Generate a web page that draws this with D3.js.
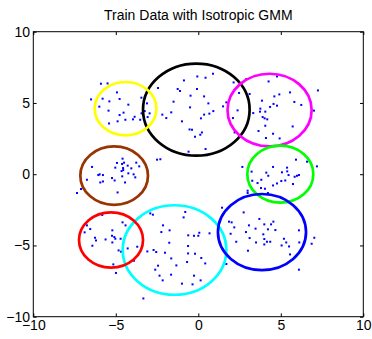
<!DOCTYPE html>
<html>
<head>
<meta charset="utf-8">
<script src="https://cdn.jsdelivr.net/npm/d3@7/dist/d3.min.js"></script>
<style>
  html, body { margin: 0; padding: 0; background: #fff; }
  svg { display: block; }
  text { font-family: "Liberation Sans", Arial, Helvetica, sans-serif; }
</style>
</head>
<body>
<div id="chart"></div>
<script>
// ---------- data ----------
const titleText = "Train Data with Isotropic GMM";
const xTicks = [-10, -5, 0, 5, 10];
const yTicks = [-10, -5, 0, 5, 10];

// sample points (grouped by region)
const yellowX = [-5.90,-5.50,-6.50,-5.80,-4.93,-5.39,-4.77,-6.00,-4.24,-5.44,-4.53,-4.77,-3.45,-3.11,-3.44,-3.25,-2.95,-3.07,-3.86,-3.96,-4.42,-4.89,-5.41,-3.52];
const yellowY = [6.35,6.37,5.25,5.30,5.74,5.11,5.28,4.74,4.88,4.46,4.32,4.15,5.37,4.97,4.27,4.43,4.27,4.01,4.03,3.85,3.82,3.71,3.56,3.82];

const blackX = [-2.44,-0.87,-0.06,0.44,0.89,-1.25,-1.11,-0.08,-0.47,0.35,-1.50,-0.50,0.61,0.91,0.67,0.35,0.16,-0.99,-1.64,-2.18,-1.94,-0.53,-0.38,0.22,0.12,-0.20,-0.59,0.44,1.50,1.70,2.14,2.47,2.38,2.10,2.20,2.91,3.11,-2.50,-2.30];
const blackY = [6.05,6.58,6.86,6.77,7.05,5.98,5.84,5.98,5.51,5.46,5.09,4.69,4.97,4.43,4.25,4.18,3.92,3.71,4.34,4.18,3.94,3.14,3.12,2.93,2.77,2.63,1.58,1.77,4.76,5.04,6.44,5.70,4.48,3.94,2.93,6.68,5.63,1.02,1.05];

const magentaX = [4.26,4.77,3.86,4.61,4.91,5.56,7.25,5.82,6.24,4.56,4.77,4.35,3.76,3.74,4.06,3.33,3.90,4.02,4.18,7.01,5.72,3.65,4.06,4.53,4.93,4.10];
const magentaY = [6.51,6.86,5.16,5.46,5.60,5.74,5.88,5.07,4.86,4.93,4.81,4.72,4.60,4.39,4.39,4.29,4.01,3.92,3.85,4.46,3.35,3.03,3.40,2.84,2.51,2.54];

const brownX = [-6.44,-6.75,-7.35,-7.11,-6.06,-5.98,-5.78,-5.94,-5.78,-5.23,-5.07,-4.89,-5.03,-4.93,-4.59,-4.62,-4.50,-4.28,-4.56,-4.65,-4.55,-4.06,-3.76,-3.58,-4.24,-3.92,-3.82,-4.61,-4.44];
const brownY = [0.51,-0.39,-1.32,-1.04,-0.06,-0.01,-0.06,-0.58,-0.51,-0.27,-0.44,-1.28,0.46,0.79,1.09,0.72,0.81,0.60,0.43,0.22,0.29,0.41,0.81,0.55,0.06,-0.01,-0.22,-0.15,-0.58];

const greenX = [2.67,3.23,4.53,4.12,4.24,5.07,5.38,5.39,5.47,5.92,6.59,7.19,5.84,5.98,6.10,5.27,5.03,4.77,4.53,5.74,3.82,3.27,3.59,3.80,4.04,2.99,2.99,4.22];
const greenY = [0.51,0.18,0.51,0.11,-0.11,0.13,0.46,0.20,-0.06,1.02,0.88,0.55,-0.18,-0.11,-0.06,-0.44,-0.48,-0.65,-0.79,-0.69,-0.39,-0.46,-0.62,-0.97,-1.02,-1.16,-1.32,-1.32];

const redX = [-5.82,-6.75,-6.55,-6.89,-6.26,-6.20,-6.42,-5.62,-5.21,-5.23,-5.09,-5.03,-5.21,-4.71,-4.59,-4.41,-4.83,-4.68,-4.28,-3.70,-3.09,-3.90,-5.15,-4.99];
const redY = [-2.86,-3.59,-3.85,-4.08,-4.46,-4.65,-5.02,-4.58,-3.94,-4.32,-4.41,-4.53,-4.79,-4.53,-3.38,-3.59,-5.35,-5.44,-5.21,-5.09,-5.42,-6.07,-6.33,-6.93];

const cyanX = [-2.91,-2.75,-0.79,-0.89,-2.14,-1.74,-2.24,-0.61,-0.26,0.00,0.06,0.68,-1.76,-0.62,-2.71,-2.55,-2.02,-0.62,-0.20,-1.64,0.18,0.42,-0.68,-1.33,-2.44,-2.61,-2.35,-2.16,-1.65,-0.26,0.14,-0.99,-0.35,-3.33,1.44,1.70];
const cyanY = [-2.75,-2.84,-2.65,-3.03,-3.59,-3.94,-4.06,-4.29,-4.32,-4.32,-4.11,-4.15,-4.81,-5.04,-5.32,-5.46,-5.51,-5.56,-5.58,-5.91,-5.88,-6.26,-6.16,-6.40,-6.42,-6.70,-7.12,-7.45,-7.05,-7.12,-7.45,-7.68,-7.73,-8.72,-2.35,-6.30];

const blueX = [2.75,3.70,1.86,2.02,2.18,3.07,3.47,4.00,4.41,4.55,4.22,4.67,2.89,1.96,3.94,6.10,7.03,6.87,6.12,5.19,5.33,5.50,5.05,3.50,4.00,4.16,4.36,4.00,3.11,2.30,3.01,5.56,6.10];
const blueY = [-2.68,-3.14,-3.33,-3.38,-3.73,-3.59,-3.82,-3.52,-3.52,-3.33,-3.87,-3.92,-4.06,-4.18,-4.22,-3.94,-4.46,-4.88,-4.79,-4.53,-4.79,-5.07,-5.00,-4.79,-4.55,-4.74,-4.74,-4.93,-4.48,-4.74,-5.37,-5.63,-6.70];

// GMM components (isotropic => circles in data space)
const compNames   = ["black", "yellow", "magenta", "brown", "green", "cyan", "red", "blue"];
const compCenterX = [-0.12, -4.41, 4.32, -5.10, 4.97, -1.44, -5.29, 3.86];
const compCenterY = [4.53, 4.60, 4.50, -0.10, 0.00, -5.32, -4.62, -4.06];
const compRadius  = [3.23, 1.87, 2.55, 2.05, 2.00, 3.14, 1.94, 2.67];
const compColors  = ["#000000", "#ffff00", "#ff00ff", "#993300", "#00ff00", "#00ffff", "#ff0000", "#0000ff"];

// ---------- drawing ----------
(function () {
const W = 372, H = 339;
const mLeft = 33.3, mRight = 363.3, mTop = 31.7, mBottom = 316.7;

const svg = d3.select("#chart").append("svg")
  .attr("width", W).attr("height", H);

const x = d3.scaleLinear().domain([-10, 10]).range([mLeft, mRight]);
const y = d3.scaleLinear().domain([-10, 10]).range([mBottom, mTop]);

const groupsX = [yellowX, blackX, magentaX, brownX, greenX, redX, cyanX, blueX];
const groupsY = [yellowY, blackY, magentaY, brownY, greenY, redY, cyanY, blueY];
const points = [];
groupsX.forEach((gx, gi) => gx.forEach((v, i) => points.push([v, groupsY[gi][i]])));

// points
svg.append("g").selectAll("rect").data(points).join("rect")
  .attr("x", d => x(d[0]) - 1)
  .attr("y", d => y(d[1]) - 1)
  .attr("width", 2).attr("height", 2)
  .attr("fill", "#0000ff");

// component circles
const comps = compNames.map((n, i) => ({
  cx: compCenterX[i], cy: compCenterY[i], r: compRadius[i], color: compColors[i]
}));
svg.append("g").selectAll("ellipse").data(comps).join("ellipse")
  .attr("cx", d => x(d.cx))
  .attr("cy", d => y(d.cy))
  .attr("rx", d => x(d.r) - x(0))
  .attr("ry", d => y(0) - y(d.r))
  .attr("fill", "none")
  .attr("stroke", d => d.color)
  .attr("stroke-width", 2.7);

// axes
const tick = 3.3;
const fs = "14px";
const axB = d3.axisBottom(x).tickValues(xTicks).tickSizeInner(-tick).tickSizeOuter(0).tickPadding(3.5);
const axT = d3.axisTop(x).tickValues(xTicks).tickSizeInner(-tick).tickSizeOuter(0).tickFormat("");
const axL = d3.axisLeft(y).tickValues(yTicks).tickSizeInner(-tick).tickSizeOuter(0).tickPadding(3.3);
const axR = d3.axisRight(y).tickValues(yTicks).tickSizeInner(-tick).tickSizeOuter(0).tickFormat("");

function styleAxis(g) {
  g.select(".domain").remove();
  g.selectAll("line").attr("stroke", "#000").attr("stroke-width", 1);
  g.selectAll("text").attr("fill", "#000").style("font-size", fs);
}
svg.append("g").attr("transform", `translate(0,${mBottom})`).call(axB).call(styleAxis);
svg.append("g").attr("transform", `translate(0,${mTop})`).call(axT).call(styleAxis);
svg.append("g").attr("transform", `translate(${mLeft},0)`).call(axL).call(styleAxis);
svg.append("g").attr("transform", `translate(${mRight},0)`).call(axR).call(styleAxis);

// box
svg.append("rect")
  .attr("x", mLeft).attr("y", mTop)
  .attr("width", mRight - mLeft).attr("height", mBottom - mTop)
  .attr("fill", "none").attr("stroke", "#000").attr("stroke-width", 1);

// title
svg.append("text")
  .attr("x", (mLeft + mRight) / 2).attr("y", 19.5)
  .attr("text-anchor", "middle")
  .style("font-size", "14px")
  .attr("fill", "#000")
  .text(titleText);
})();
</script>
</body>
</html>
